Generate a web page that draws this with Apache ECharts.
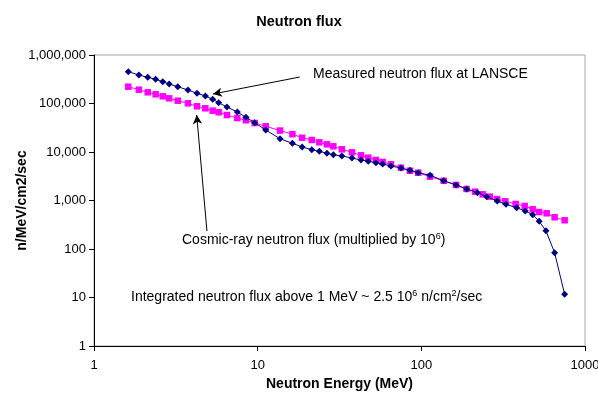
<!DOCTYPE html>
<html>
<head>
<meta charset="utf-8">
<script src="https://cdn.jsdelivr.net/npm/echarts@6/dist/echarts.min.js"></script>
<style>
  html, body { margin: 0; padding: 0; background: #fff; }
  #chart { width: 598px; height: 399px; }
</style>
</head>
<body>
<div id="chart"></div>
<script>
// measured at LANSCE (MeV, n/MeV/cm2/sec)
const measuredEnergy = [1.62, 1.88, 2.13, 2.38, 2.63, 2.88, 3.25, 3.75, 4.26, 4.79, 5.31, 5.78, 6.49, 7.51, 8.48, 9.59,
  11.2, 13.7, 16.3, 18.7, 21.4, 23.8, 26.5, 29.0, 32.7, 37.7, 42.8, 47.4, 52.8, 58.0, 65.2, 75.1, 85.2, 95.7,
  113, 137, 163, 189, 220, 251, 291, 329, 382, 431, 479, 525, 577, 652, 751]
const measuredFlux = [452800, 387000, 346900, 315600, 281500, 252500, 222000, 189800, 162300, 142800, 122100, 103800,
  84700, 66800, 51900, 40200, 28400, 18800, 15100, 12700, 11150, 10330, 9400, 8800, 8270, 7520, 6840, 6430, 6010,
  5660, 5150, 4680, 4190, 3740, 3310, 2560, 2090, 1730, 1450, 1200, 977, 835, 711, 608, 509, 372, 238, 84, 11.6]

// cosmic-ray spectrum x 1e6
const cosmicEnergy = [1.62, 1.88, 2.13, 2.38, 2.63, 2.88, 3.25, 3.75, 4.26, 4.79, 5.31, 5.78, 6.49, 7.51, 8.48, 9.59,
  11.2, 13.7, 16.3, 18.7, 21.4, 23.8, 26.5, 29.0, 32.7, 37.7, 42.8, 47.4, 52.8, 58.0, 65.2, 75.1, 85.2, 95.7,
  113, 137, 163, 189, 213, 237, 262, 291, 326, 377, 428, 479, 525, 583, 652, 751]
const cosmicFlux = [222000, 192600, 170200, 154800, 140700, 127900, 114200, 100900, 87500, 79600, 71100, 65900,
  57900, 50200, 45100, 39600, 33900, 27700, 23300, 19700, 17700, 15850, 14400, 13100, 11370, 9860, 8550, 7630,
  6840, 6220, 5580, 4750, 4110, 3740, 3100, 2550, 2090, 1730, 1520, 1340, 1200, 1070, 963, 847, 771, 659, 579,
  545, 451, 391]

const font = 'Liberation Sans, Arial, sans-serif'

const chart = echarts.init(document.getElementById('chart'))

const option = {
  animation: false,
  title: {
    text: 'Neutron flux', left: 'center', top: 9,
    textStyle: { fontFamily: font, fontSize: 14.5, fontWeight: 'bold', color: '#000' },
  },
  grid: {
    left: 94, right: 13, top: 55, bottom: 53, outerBoundsMode: 'none',
    show: true, borderColor: '#a6a6a6', borderWidth: 1,
  },
  xAxis: {
    type: 'log', logBase: 10, min: 1, max: 1000,
    name: 'Neutron Energy (MeV)', nameLocation: 'middle', nameGap: 29,
    nameTextStyle: { fontFamily: font, fontSize: 14, fontWeight: 'bold', color: '#000' },
    axisLine: { lineStyle: { color: '#000', width: 1 } },
    axisTick: { inside: false, length: 5, lineStyle: { color: '#000' } },
    minorTick: { show: false },
    axisLabel: { fontFamily: font, fontSize: 13, color: '#000', margin: 13, formatter: v => String(Math.round(v)) },
    splitLine: { show: false },
  },
  yAxis: {
    type: 'log', logBase: 10, min: 1, max: 1000000,
    name: 'n/MeV/cm2/sec', nameLocation: 'middle', nameGap: 65, nameRotate: 90, nameMoveOverlap: false,
    nameTextStyle: { fontFamily: font, fontSize: 14, fontWeight: 'bold', color: '#000' },
    axisLine: { show: true, lineStyle: { color: '#000', width: 1 } },
    axisTick: { show: true, inside: false, length: 5, lineStyle: { color: '#000' } },
    axisLabel: {
      fontFamily: font, fontSize: 13, color: '#000', margin: 8,
      formatter: v => Math.round(v).toLocaleString('en-US'),
    },
    splitLine: { show: false },
  },
  series: [
    {
      name: 'Cosmic-ray neutron flux',
      type: 'line',
      data: cosmicEnergy.map((e, i) => [e, cosmicFlux[i]]),
      symbol: 'rect', symbolSize: 6.5, showAllSymbol: true,
      lineStyle: { color: '#ff00ff', width: 1 },
      itemStyle: { color: '#ff00ff' },
      z: 2,
    },
    {
      name: 'Measured neutron flux at LANSCE',
      type: 'line',
      data: measuredEnergy.map((e, i) => [e, measuredFlux[i]]),
      symbol: 'diamond', symbolSize: 7, showAllSymbol: true,
      lineStyle: { color: '#000080', width: 1 },
      itemStyle: { color: '#000080' },
      z: 3,
      markLine: {
        silent: true,
        symbol: ['none', 'arrow'], symbolSize: [7, 9],
        label: { show: false },
        lineStyle: { color: '#000', width: 1, type: 'solid' },
        data: [
          [{ coord: [18.1, 351800] }, { coord: [5.33, 157000] }],
          [{ coord: [4.9, 235] }, { coord: [4.24, 57900] }],
        ],
      },
    },
  ],
  graphic: [
    {
      type: 'text', left: 313, top: 67,
      style: { text: 'Measured neutron flux at LANSCE', fontFamily: font, fontSize: 14, fill: '#000' },
    },
    {
      type: 'text', left: 182, top: 232,
      style: {
        text: 'Cosmic-ray neutron flux (multiplied by 10{sup|6})',
        fontFamily: font, fontSize: 14, fill: '#000',
        rich: { sup: { fontFamily: font, fontSize: 9, fill: '#000', padding: [0, 0, 7, 0] } },
      },
    },
    {
      type: 'text', left: 131, top: 289,
      style: {
        text: 'Integrated neutron flux above 1 MeV ~ 2.5 10{sup|6} n/cm{sup|2}/sec',
        fontFamily: font, fontSize: 14, fill: '#000',
        rich: { sup: { fontFamily: font, fontSize: 9, fill: '#000', padding: [0, 0, 7, 0] } },
      },
    },
  ],
}

chart.setOption(option)
</script>
</body>
</html>
